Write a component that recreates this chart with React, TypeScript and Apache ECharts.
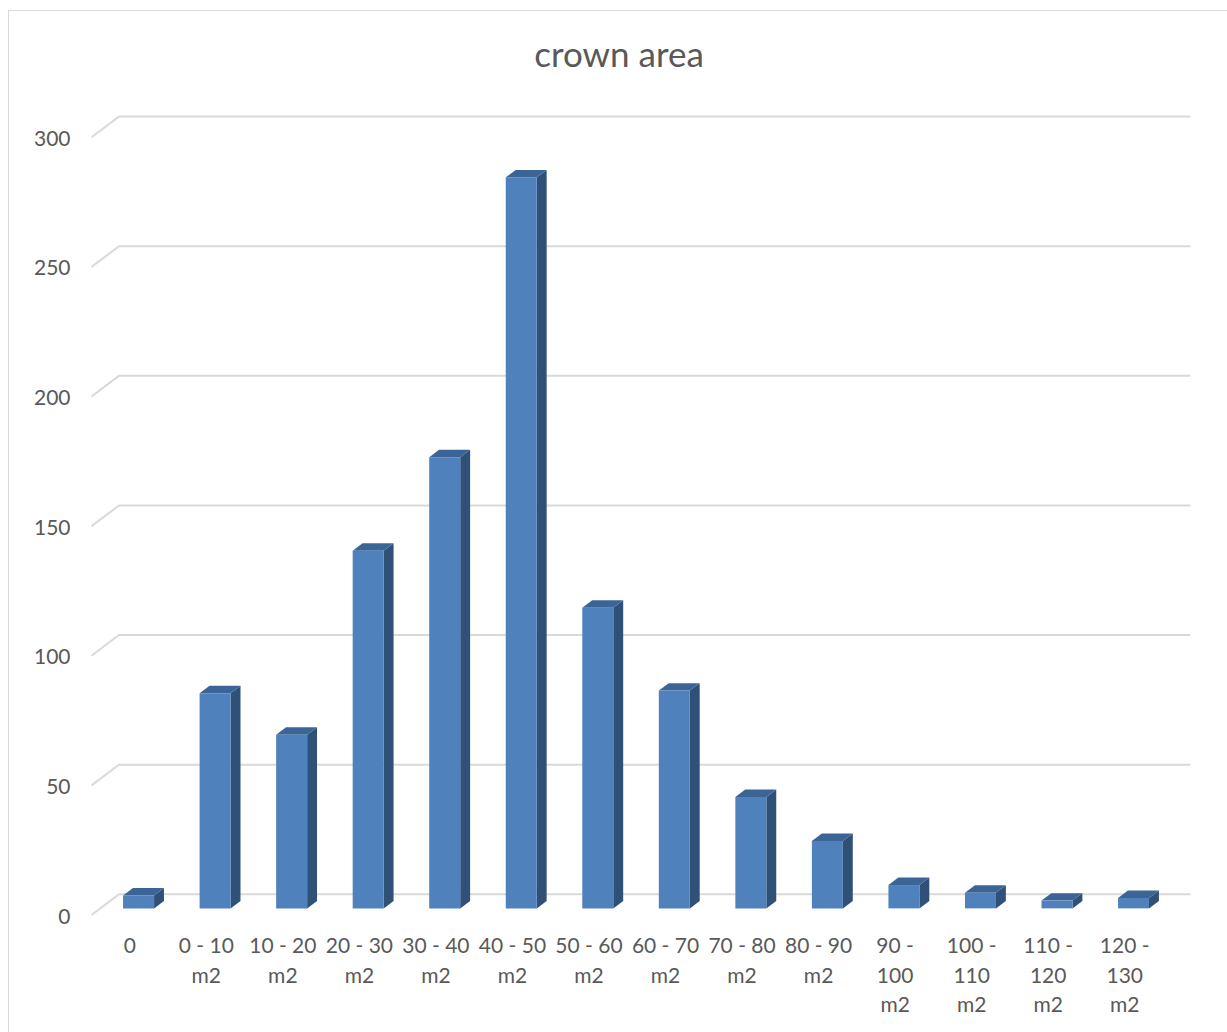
import React, { useEffect, useRef } from "react";
import * as echarts from "echarts";

const categories = [
  "0",
  "0 - 10\nm2",
  "10 - 20\nm2",
  "20 - 30\nm2",
  "30 - 40\nm2",
  "40 - 50\nm2",
  "50 - 60\nm2",
  "60 - 70\nm2",
  "70 - 80\nm2",
  "80 - 90\nm2",
  "90 -\n100\nm2",
  "100 -\n110\nm2",
  "110 -\n120\nm2",
  "120 -\n130\nm2",
];
const counts = [5, 83, 67, 138, 174, 282, 116, 84, 43, 26, 9, 6, 3, 4];
const yTicks = [0, 50, 100, 150, 200, 250, 300];

const DEPTH_X = 27.5;
const DEPTH_Y = -20.7;
const BAR_FRONT = 0.32;
const BAR_BACK = 0.68;
const BAR_RATIO = 0.405;

export default function App() {
  const ref = useRef<HTMLDivElement>(null);
  useEffect(() => {
    if (!ref.current) return;
    const chart = echarts.init(ref.current, undefined, { renderer: "svg" });
    const font = "Lato, 'Open Sans', sans-serif";
    chart.setOption({
      animation: false,
      title: {
        text: "crown area",
        left: 614,
        top: 30,
        textAlign: "center",
        textStyle: { fontFamily: font, fontSize: 35, fontWeight: "normal", color: "#595959" },
      },
      grid: { left: 91.5, right: 64, top: 137.3, bottom: 117, containLabel: false },
      xAxis: {
        type: "category",
        data: categories,
        axisLine: { show: false },
        axisTick: { show: false },
        splitLine: { show: false },
        axisLabel: {
          interval: 0,
          margin: 15,
          fontFamily: font,
          fontSize: 21,
          lineHeight: 29.5,
          color: "#595959",
          verticalAlign: "top",
        },
      },
      yAxis: {
        type: "value",
        min: 0,
        max: 300,
        interval: 50,
        axisLine: { show: false },
        axisTick: { show: false },
        splitLine: { show: false },
        axisLabel: { margin: 21, fontFamily: font, fontSize: 21, color: "#595959" },
      },
      series: [
        {
          type: "custom",
          z: 1,
          data: yTicks.map((t) => [0, t]),
          renderItem: (params: any, api: any) => {
            const cs = params.coordSys;
            const y = api.coord([0, api.value(1)])[1];
            const x0 = cs.x;
            const x1 = cs.x + cs.width;
            return {
              type: "polyline",
              shape: {
                points: [
                  [x0, y],
                  [x0 + DEPTH_X, y + DEPTH_Y],
                  [x1 + DEPTH_X, y + DEPTH_Y],
                ],
              },
              style: { stroke: "#d9d9d9", lineWidth: 2, fill: "none" },
              silent: true,
            };
          },
        },
        {
          type: "custom",
          z: 2,
          data: counts.map((v, i) => [i, v]),
          renderItem: (params: any, api: any) => {
            const i = api.value(0);
            const v = api.value(1);
            const base = api.coord([i, 0]);
            const top = api.coord([i, v]);
            const cw = api.size([1, 0])[0];
            const bw = cw * BAR_RATIO;
            const fx = BAR_FRONT * DEPTH_X;
            const fy = BAR_FRONT * DEPTH_Y;
            const dx = (BAR_BACK - BAR_FRONT) * DEPTH_X;
            const dy = (BAR_BACK - BAR_FRONT) * DEPTH_Y;
            const xl = base[0] - bw / 2 + fx;
            const xr = xl + bw;
            const yb = base[1] + fy;
            const yt = top[1] + fy;
            return {
              type: "group",
              children: [
                {
                  type: "polygon",
                  shape: { points: [[xr, yt], [xr + dx, yt + dy], [xr + dx, yb + dy], [xr, yb]] },
                  style: { fill: "#2f5177" },
                },
                {
                  type: "polygon",
                  shape: { points: [[xl, yt], [xr, yt], [xr + dx, yt + dy], [xl + dx, yt + dy]] },
                  style: { fill: "#3b6497" },
                },
                {
                  type: "rect",
                  shape: { x: xl, y: yt, width: bw, height: yb - yt },
                  style: { fill: "#4f81bd" },
                },
              ],
            };
          },
        },
      ],
    });
    return () => chart.dispose();
  }, []);
  return (
    <div style={{ position: "fixed", left: 0, top: 0, width: 1227, height: 1032, overflow: "hidden", background: "#fff" }}>
      <div
        style={{
          position: "absolute",
          left: 8,
          top: 10,
          width: 1300,
          height: 1100,
          border: "1px solid #d9d9d9",
        }}
      />
      <div ref={ref} style={{ position: "absolute", left: 0, top: 0, width: 1227, height: 1032 }} />
    </div>
  );
}
